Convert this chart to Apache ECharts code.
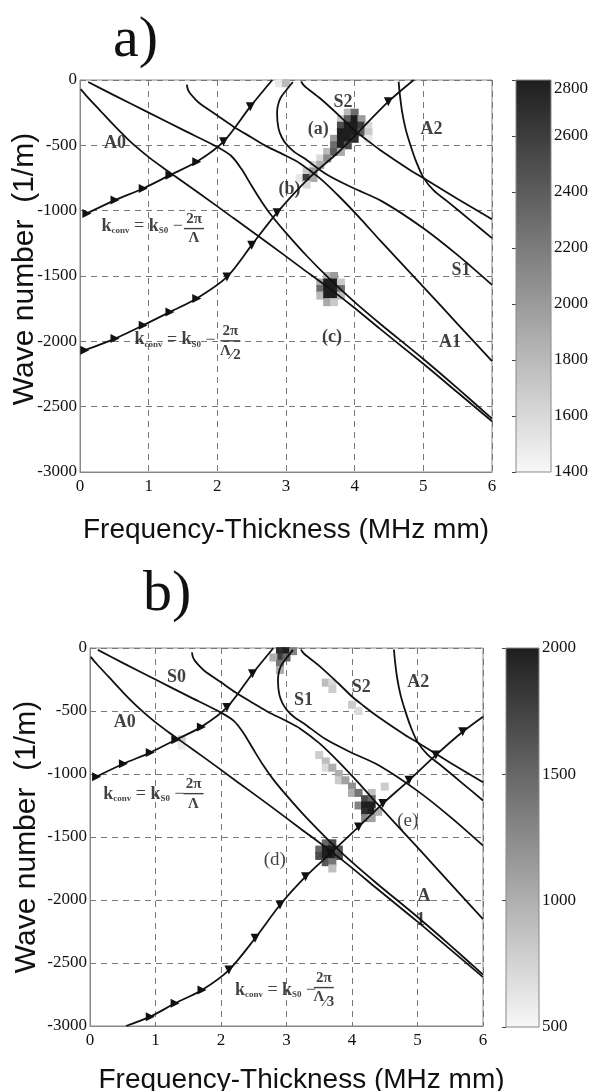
<!DOCTYPE html>
<html><head><meta charset="utf-8">
<script src="https://cdn.jsdelivr.net/npm/echarts@6/dist/echarts.min.js"></script>
<style>html,body{margin:0;padding:0;background:#fff}#c{width:591px;height:1091px}</style>
</head><body><div id="c"></div>
<script>
// ---------- dispersion curves (shared by both panels): [fd (MHz mm), wave number (1/m)] ----------
const curveA0 = [[0.01,-70],[0.1,-125],[0.29,-232],[0.5,-350],[0.69,-450],[0.85,-525],[1.02,-598],[1.2,-668],[1.38,-735],[1.75,-872],[2.23,-1055],[2.73,-1245],[3.21,-1432],[3.67,-1610],[4.0,-1745],[4.37,-1905],[5.0,-2172],[5.5,-2392],[6.0,-2612]];
const curveS0 = [[0.12,-15],[0.5,-118],[1.0,-250],[1.5,-382],[1.98,-507],[2.2,-580],[2.35,-680],[2.5,-810],[2.65,-935],[2.8,-1045],[3.0,-1170],[3.3,-1345],[3.65,-1530],[4.0,-1700],[4.37,-1865],[5.0,-2135],[5.5,-2360],[6.0,-2592]];
const curveA1 = [[1.556,-35],[1.57,-70],[1.6,-100],[1.68,-148],[1.75,-182],[2.0,-272],[2.23,-355],[2.5,-440],[2.72,-508],[3.0,-580],[3.21,-640],[3.5,-755],[3.8,-905],[4.1,-1070],[4.37,-1228],[5.0,-1583],[5.5,-1868],[6.0,-2152]];
const curveS1 = [[3.1,-15],[3.0,-80],[2.92,-138],[2.88,-200],[2.87,-260],[2.89,-368],[2.94,-440],[3.01,-495],[3.12,-550],[3.26,-597],[3.6,-725],[3.98,-827],[4.4,-929],[5.0,-1134],[5.5,-1340],[6.0,-1568]];
const curveS2 = [[3.22,-12],[3.25,-35],[3.3,-60],[3.5,-142],[3.79,-280],[4.0,-385],[4.18,-460],[4.37,-535],[4.81,-690],[5.0,-750],[5.5,-910],[6.0,-1066]];
const curveA2 = [[4.64,-12],[4.66,-120],[4.69,-240],[4.74,-370],[4.81,-495],[4.9,-630],[5.0,-745],[5.15,-845],[5.35,-929],[5.7,-1080],[6.0,-1210]];

// ---------- conversion lines (arrow points) ----------
const convLambda  = [[0.1,-1021],[0.51,-919],[0.92,-830],[1.31,-728],[1.7,-626],[2.09,-472],[2.48,-204],[2.8,0]];
const convLambda2 = [[0.07,-2068],[0.51,-1979],[0.92,-1877],[1.31,-1775],[1.7,-1672],[2.14,-1507],[2.5,-1264],[2.87,-1015],[3.33,-753],[3.77,-549],[4.06,-396],[4.49,-166],[4.86,0]];
const convLambda3 = [[0.55,-3000],[0.92,-2926],[1.3,-2820],[1.71,-2714],[2.12,-2556],[2.52,-2304],[2.9,-2040],[3.29,-1815],[3.67,-1630],[4.1,-1420],[4.47,-1235],[4.87,-1050],[5.28,-850],[5.69,-665],[6.0,-545]];
const arrowIdxA2 = [0,1,2,3,4,5,6,7,11];   // points of the Λ/2 line that carry arrows

// ---------- scattered-energy maps: [fd, k, amplitude] ----------
const blobsA = [
 [3.9,-250,1800],[4.0,-250,2300],
 [3.8,-300,1700],[3.9,-300,2400],[4.0,-300,2800],[4.1,-300,2000],
 [3.8,-350,2500],[3.9,-350,2800],[4.0,-350,2800],[4.1,-350,2600],[4.2,-350,1600],
 [3.8,-400,2800],[3.9,-400,2800],[4.0,-400,2800],[4.1,-400,2400],[4.2,-400,1700],
 [3.7,-450,2000],[3.8,-450,2800],[3.9,-450,2800],[4.0,-450,2700],[4.2,-450,1500],
 [3.7,-500,2300],[3.8,-500,2800],[3.9,-500,2500],
 [3.6,-550,1800],[3.7,-550,2400],[3.8,-550,1900],
 [3.5,-600,1600],[3.6,-600,2100],
 [3.4,-650,1600],[3.5,-650,1900],
 [3.3,-700,1700],[3.4,-700,2000],
 [3.2,-750,1500],[3.3,-750,2600],[3.4,-750,1900],
 [3.3,-800,1600],
 [2.9,-25,1500],[3.0,-25,1800],
 [3.6,-1500,1800],[3.7,-1500,2000],
 [3.5,-1550,1900],[3.6,-1550,2800],[3.7,-1550,2800],[3.8,-1550,1700],
 [3.5,-1600,2300],[3.6,-1600,2800],[3.7,-1600,2800],[3.8,-1600,2300],
 [3.5,-1650,1800],[3.6,-1650,2800],[3.7,-1650,2800],[3.8,-1650,1800],
 [3.6,-1700,1900],[3.7,-1700,1700]
];
const blobsB = [
 [2.9,-25,1900],[3.0,-25,2000],[3.1,-25,1300],[2.9,-75,1800],[3.0,-75,1500],[2.8,-75,1000],[2.9,-125,1400],[2.9,-175,1000],
 [3.6,-275,900],[3.7,-275,700],[3.7,-325,800],
 [4.0,-450,800],[4.1,-500,700],
 [1.4,-725,800],[1.4,-775,600],
 [3.5,-850,800],[3.6,-900,900],[3.6,-950,700],[3.7,-950,1000],[3.8,-1000,1000],[3.8,-1050,800],[3.9,-1050,1100],[4.0,-1100,1200],[4.0,-1150,1000],[4.1,-1150,1400],
 [4.3,-1150,900],[4.2,-1200,1700],[4.3,-1200,1500],[4.1,-1250,1300],[4.2,-1250,2000],[4.3,-1250,2000],[4.2,-1300,1900],[4.3,-1300,2000],[4.4,-1300,1000],[4.2,-1350,1300],[4.3,-1350,1100],
 [4.5,-1100,800],
 [3.6,-1550,1500],[3.7,-1550,1700],[3.5,-1600,1500],[3.6,-1600,2000],[3.7,-1600,2000],[3.8,-1600,1600],
 [3.5,-1650,1700],[3.6,-1650,2000],[3.7,-1650,2000],[3.8,-1650,1700],[3.6,-1700,1600],[3.7,-1700,1400],[3.7,-1750,900]
];

// ---------- colour-bar ranges ----------
const cbRangeA = [1400, 2800], cbStepA = 200;
const cbRangeB = [500, 2000],  cbStepB = 500;

// ---------- texts ----------
const modeLabelsA = [[0.51,-483,'A0'],[3.83,-169,'S2'],[3.47,-375,'(a)'],[5.12,-375,'A2'],[3.05,-835,'(b)'],[5.55,-1455,'S1'],[3.67,-1969,'(c)'],[5.39,-2007,'A1']];
const modeLabelsB = [[1.32,-230,'S0'],[0.53,-587,'A0'],[3.26,-413,'S1'],[4.14,-310,'S2'],[5.01,-270,'A2'],[5.1,-1968,'A'],[5.05,-2159,'1']];
const pointLabelsB = [[4.85,-1373,'(e)'],[2.82,-1683,'(d)']];
const formulaMainA = [[0.32,-1126],[0.8,-1992]];
const formulaFracA = [[1.66,-1141,'Λ'],[2.19,-2000,'Λ/2']];
const formulaMainB = [[0.21,-1167],[2.22,-2722]];
const formulaFracB = [[1.58,-1160,'Λ'],[3.57,-2699,'Λ/3']];
const xTitle = 'Frequency-Thickness (MHz mm)';
const yTitle = 'Wave number  (1/m)';

const SERIF = 'Liberation Serif', SANS = 'Liberation Sans';
const INK = '#111';
const plain = (v) => String(v);

function plotX(gi, gap, padLeft) {
  return {gridIndex: gi, type: 'value', min: 0, max: 6, interval: 1,
    axisLine: {show: true, onZero: false, lineStyle: {color: '#888'}},
    axisTick: {show: false},
    axisLabel: {color: INK, fontFamily: SERIF, fontSize: 17, margin: 6, formatter: plain},
    splitLine: {show: true, lineStyle: {color: '#777', type: [6, 5], width: 1}},
    name: xTitle, nameLocation: 'middle', nameGap: gap,
    nameTextStyle: {fontFamily: SANS, fontSize: 28, color: INK, padding: [0, 0, 0, padLeft]}};
}
function plotY(gi, gap, padLeft) {
  return {gridIndex: gi, type: 'value', min: -3000, max: 0, interval: 500,
    axisLine: {show: true, onZero: false, lineStyle: {color: '#888'}},
    axisTick: {show: false},
    axisLabel: {color: INK, fontFamily: SERIF, fontSize: 17, margin: 3, formatter: plain},
    splitLine: {show: true, lineStyle: {color: '#777', type: [6, 5], width: 1}},
    name: yTitle, nameLocation: 'middle', nameGap: gap, nameRotate: 90, nameMoveOverlap: false,
    nameTextStyle: {fontFamily: SANS, fontSize: 30, color: INK, padding: [0, 0, 0, padLeft]}};
}
function cbX(gi) { return {gridIndex: gi, type: 'value', min: 0, max: 1, show: false}; }
function cbY(gi, range, step, topAlign) {
  return {gridIndex: gi, type: 'value', min: range[0], max: range[1], interval: step, position: 'right',
    axisLine: {show: false}, splitLine: {show: false},
    axisTick: {show: true, inside: true, length: 4, lineStyle: {color: '#444'}},
    axisLabel: {color: INK, fontFamily: SERIF, fontSize: 17, margin: 3, formatter: plain,
      verticalAlignMaxLabel: topAlign ? 'top' : null}};
}

function curve(data, xi, yi) {
  return {type: 'line', xAxisIndex: xi, yAxisIndex: yi, data: data, smooth: 0.3, symbol: 'none',
    lineStyle: {color: INK, width: 1.8}, z: 3, silent: true, clip: true};
}
function conv(data, xi, yi, arrowIdx) {
  return {type: 'line', xAxisIndex: xi, yAxisIndex: yi, data: data, smooth: 0.3,
    showSymbol: true, showAllSymbol: true,
    symbol: (v, p) => arrowIdx.indexOf(p.dataIndex) >= 0 ? 'triangle' : 'none',
    symbolSize: 9,
    symbolRotate: (v) => v[0] < 2.0 ? -90 : 180,
    itemStyle: {color: INK}, lineStyle: {color: INK, width: 1.8}, z: 4, silent: true, clip: true};
}
function range(a, b) { const r = []; for (let i = a; i <= b; i++) r.push(i); return r; }

function blobs(data, xi, yi) {
  return {type: 'scatter', xAxisIndex: xi, yAxisIndex: yi, data: data, symbol: 'rect', symbolSize: 8,
    itemStyle: {opacity: 1}, z: 2, silent: true};
}
function textSeries(arr, xi, yi, bold, size) {
  return {type: 'scatter', xAxisIndex: xi, yAxisIndex: yi, symbolSize: 1, z: 6, silent: true,
    itemStyle: {color: 'rgba(0,0,0,0)'},
    data: arr.map(a => ({value: [a[0], a[1]], name: a[2]})),
    label: {show: true, position: 'inside', formatter: '{b}', fontFamily: SERIF,
      fontWeight: bold ? 'bold' : 'normal', fontSize: size, color: INK}};
}
const rich = {
  k: {fontFamily: SERIF, fontWeight: 'bold', fontSize: 18, color: INK},
  s: {fontFamily: SERIF, fontWeight: 'bold', fontSize: 9, color: INK, padding: [9, 0, 0, 0]},
  o: {fontFamily: SERIF, fontSize: 18, color: INK},
  n: {fontFamily: SERIF, fontWeight: 'bold', fontSize: 15, color: INK, lineHeight: 15, align: 'center'},
  bar: {width: 20, height: 1.4, backgroundColor: INK, lineHeight: 4, fontSize: 1},
  d: {fontFamily: SERIF, fontWeight: 'bold', fontSize: 15, color: INK, lineHeight: 16},
  ds: {fontFamily: SERIF, fontWeight: 'bold', fontSize: 15, color: INK, lineHeight: 16, padding: [9, 0, 0, 0]}
};
function formulaMain(arr, xi, yi) {
  return {type: 'scatter', xAxisIndex: xi, yAxisIndex: yi, symbolSize: 1, z: 6, silent: true,
    itemStyle: {color: 'rgba(0,0,0,0)'}, data: arr.map(a => ({value: a})),
    label: {show: true, position: [0, 0], align: 'left', verticalAlign: 'middle',
      formatter: '{k|k}{s|conv}{o| = }{k|k}{s|S0}{o| −}', rich: rich}};
}
function formulaFrac(arr, xi, yi) {
  return {type: 'scatter', xAxisIndex: xi, yAxisIndex: yi, symbolSize: 1, z: 6, silent: true,
    itemStyle: {color: 'rgba(0,0,0,0)'},
    data: arr.map(a => ({value: [a[0], a[1]], name: a[2]})),
    label: {show: true, position: 'inside', rich: rich,
      formatter: (p) => {
        const parts = p.name.split('/');
        const den = parts.length > 1 ? '{d|' + parts[0] + '}{ds|⁄' + parts[1] + '}' : '{d|' + parts[0] + '}';
        return '{n|2π}\n{bar| }\n' + den;
      }}};
}
function colorbar(rng, xi, yi) {
  return {type: 'custom', xAxisIndex: xi, yAxisIndex: yi, data: [[rng[0], rng[1]]], silent: true,
    encode: {y: [0, 1]},
    renderItem: (params, api) => {
      const p0 = api.coord([0, api.value(1)]);
      const p1 = api.coord([1, api.value(0)]);
      return {type: 'rect', shape: {x: p0[0], y: p0[1], width: p1[0] - p0[0], height: p1[1] - p0[1]},
        style: {fill: new echarts.graphic.LinearGradient(0, 0, 0, 1,
          [{offset: 0, color: '#1e1e1e'}, {offset: 1, color: '#f8f8f8'}]), stroke: '#888', lineWidth: 1}};
    }};
}

const chart = echarts.init(document.getElementById('c'), null, {renderer: 'canvas'});
const series = [
  blobs(blobsA, 0, 0),
  blobs(blobsB, 2, 2),
  curve(curveA0, 0, 0), curve(curveS0, 0, 0), curve(curveA1, 0, 0),
  curve(curveS1, 0, 0), curve(curveS2, 0, 0), curve(curveA2, 0, 0),
  conv(convLambda, 0, 0, range(0, convLambda.length - 2)),
  conv(convLambda2, 0, 0, arrowIdxA2),
  curve(curveA0, 2, 2), curve(curveS0, 2, 2), curve(curveA1, 2, 2),
  curve(curveS1, 2, 2), curve(curveS2, 2, 2), curve(curveA2, 2, 2),
  conv(convLambda, 2, 2, range(0, convLambda.length - 2)),
  conv(convLambda3, 2, 2, range(1, convLambda3.length - 2)),
  textSeries(modeLabelsA, 0, 0, true, 18),
  textSeries(modeLabelsB, 2, 2, true, 18),
  textSeries(pointLabelsB, 2, 2, false, 19),
  formulaMain(formulaMainA, 0, 0), formulaFrac(formulaFracA, 0, 0),
  formulaMain(formulaMainB, 2, 2), formulaFrac(formulaFracB, 2, 2),
  colorbar(cbRangeA, 1, 1),
  colorbar(cbRangeB, 3, 3)
];

const gridBase = {containLabel: false, outerBoundsMode: 'none'};
chart.setOption({
  animation: false,
  backgroundColor: '#fff',
  title: [
    {text: 'a)', left: 113, top: 12, padding: 0, textStyle: {fontFamily: SERIF, fontSize: 58, fontWeight: 'normal', color: INK}},
    {text: 'b)', left: 143, top: 566, padding: 0, textStyle: {fontFamily: SERIF, fontSize: 58, fontWeight: 'normal', color: INK}}
  ],
  grid: [
    Object.assign({left: 80, top: 80, width: 412, height: 392, show: true, borderColor: '#888', borderWidth: 1}, gridBase),
    Object.assign({left: 516, top: 80, width: 35, height: 392}, gridBase),
    Object.assign({left: 90, top: 648, width: 393, height: 378, show: true, borderColor: '#888', borderWidth: 1}, gridBase),
    Object.assign({left: 506, top: 648, width: 33, height: 379}, gridBase)
  ],
  xAxis: [plotX(0, 44, 0), cbX(1), plotX(2, 40, 30), cbX(3)],
  yAxis: [plotY(0, 40, 14), cbY(1, cbRangeA, cbStepA, true), plotY(2, 48, 0), cbY(3, cbRangeB, cbStepB, false)],
  visualMap: [
    {type: 'continuous', show: false, seriesIndex: 0, dimension: 2, min: cbRangeA[0], max: cbRangeA[1],
      inRange: {color: ['#f8f8f8', '#1e1e1e']}},
    {type: 'continuous', show: false, seriesIndex: 1, dimension: 2, min: cbRangeB[0], max: cbRangeB[1],
      inRange: {color: ['#f8f8f8', '#1e1e1e']}}
  ],
  series: series
});
</script>
</body></html>
